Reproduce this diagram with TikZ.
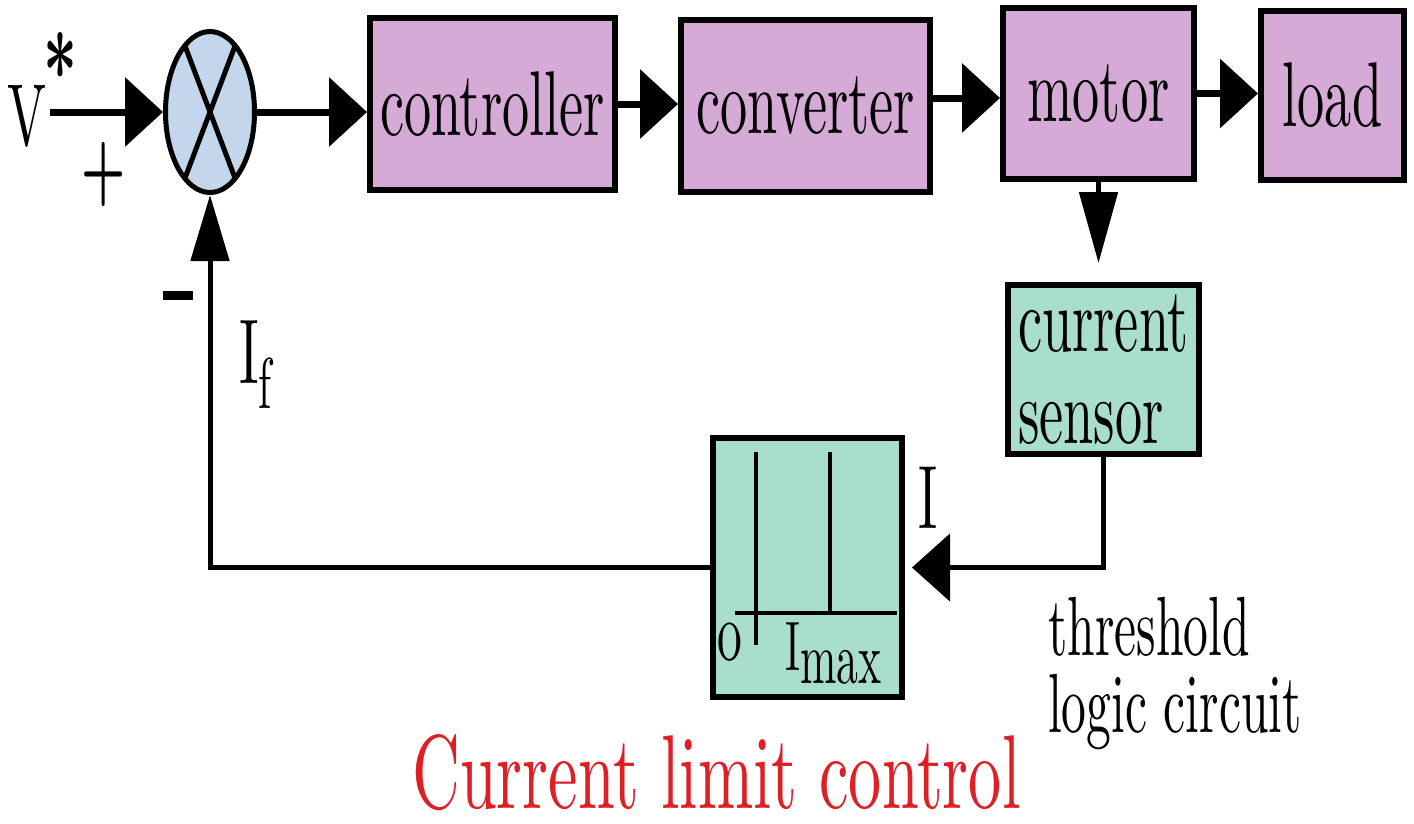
\documentclass[tikz,border=0pt]{standalone}
\usepackage{fontspec}
\usepackage{graphicx}
\setmainfont{lmroman10-regular.otf}[FakeStretch=0.59,BoldFont=lmroman10-bold.otf,BoldFeatures={FakeStretch=0.59}]
\usetikzlibrary{arrows.meta,shapes.geometric}
\definecolor{boxpink}{RGB}{214,170,214}
\definecolor{boxgreen}{RGB}{170,222,204}
\definecolor{sumblue}{RGB}{196,214,236}
\definecolor{titlered}{RGB}{222,32,38}
\newcommand\myfs[2]{\fontsize{#1}{#2}\selectfont}
\tikzset{
  blk/.style={draw=black, line width=6pt, fill=boxpink, inner sep=0pt, font={\myfs{92}{92}}},
  gblk/.style={blk, fill=boxgreen},
  lbl/.style={inner sep=0pt, font={\myfs{92}{92}}},
  harrow/.style={line width=7pt, -{Triangle[length=38pt,width=68pt]}},
  varrow/.style={line width=5pt, -{Triangle[length=66pt,width=38pt]}},
  fline/.style={line width=5pt},
  graphline/.style={line width=4.5pt},
}
\begin{document}
\begin{tikzpicture}[x=1pt,y=-1pt]
\useasboundingbox (0,0) rectangle (1414,823);

% summing junction
\node[ellipse, draw=black, line width=5pt, fill=sumblue, minimum width=89pt, minimum height=161pt, inner sep=0pt] (sum) at (210,112) {};
\draw[line width=5pt] ([shift={(-25,-66)}]sum.center) -- ([shift={(25,66)}]sum.center);
\draw[line width=5pt] ([shift={(25,-66)}]sum.center) -- ([shift={(-25,66)}]sum.center);

% blocks
\node[blk, minimum width=245pt, minimum height=172pt] (controller) at (492.5,104) {controller};
\node[blk, minimum width=249pt, minimum height=172pt] (converter) at (805.5,106) {converter};
\node[blk, minimum width=191pt, minimum height=171pt] (motor) at (1098.5,93.5) {motor};
\node[blk, minimum width=143pt, minimum height=169pt] (load) at (1332.5,95.5) {load};
\node[gblk, minimum width=191pt, minimum height=169pt, align=left] (sensor) at (1103.5,369.5) {current\\sensor};
\node[gblk, minimum width=189pt, minimum height=259pt] (thresh) at (807.5,567.5) {};

% threshold characteristic
\draw[graphline] (756,452) -- (756,645);
\draw[graphline] (830,452) -- (830,613);
\draw[graphline] (735,613) -- (897,613);
\node[lbl, font={\myfs{84}{84}}] (origin) at (730,642) {o};
\node[lbl, anchor=base west, font={\myfs{70}{70}}] (imax) at (785,670) {I\raisebox{-13pt}{\myfs{74}{74}max}};

% labels
\coordinate (vin) at (50,112);
\node[lbl, anchor=base, font={\myfs{88}{88}}] (vlab) at (27,145) {V};
\node[lbl, font={\myfs{100}{100}\bfseries}] (star) at (60,70) {*};
\node[lbl, font={\myfs{84}{84}\bfseries}] (plus) at (104,174) {+};
\node[lbl] (minus) at (178,295) {\rule{30pt}{9pt}};
\node[lbl, anchor=base west] (iflab) at (239,383) {I\raisebox{-25pt}{\myfs{72}{72}f}};
\node[lbl, anchor=base, font={\myfs{90}{90}}] (ilab) at (928,528) {I};
\node[lbl, anchor=north west, align=left, font={\myfs{84}{77}}] (tlc) at (1048,597) {threshold\\logic circuit};
\node[lbl, anchor=base west, text=titlered, font={\myfs{105}{105}}] (title) at (412,808) {\scalebox{1.07}[1]{Current limit control}};

% connectors
\draw[harrow] (vin) -- (sum.west);
\draw[harrow] (sum.east) -- (sum.east -| controller.west);
\draw[harrow] (controller.east) -- (controller.east -| converter.west);
\draw[harrow] ([yshift=8pt]converter.east) -- ([yshift=8pt]converter.east -| motor.west);
\draw[harrow] (motor.east) -- (motor.east -| load.west);
\draw[varrow, -{Triangle[length=71pt,width=38pt]}, shorten >=19pt] (motor.south) -- (motor.south |- sensor.north);
\draw[fline, -{Triangle[length=38pt,width=67pt]}, shorten >=7pt] (sensor.south) |- (thresh.east);
\draw[varrow] (thresh.west) -| (sum.south);
\end{tikzpicture}
\end{document}
